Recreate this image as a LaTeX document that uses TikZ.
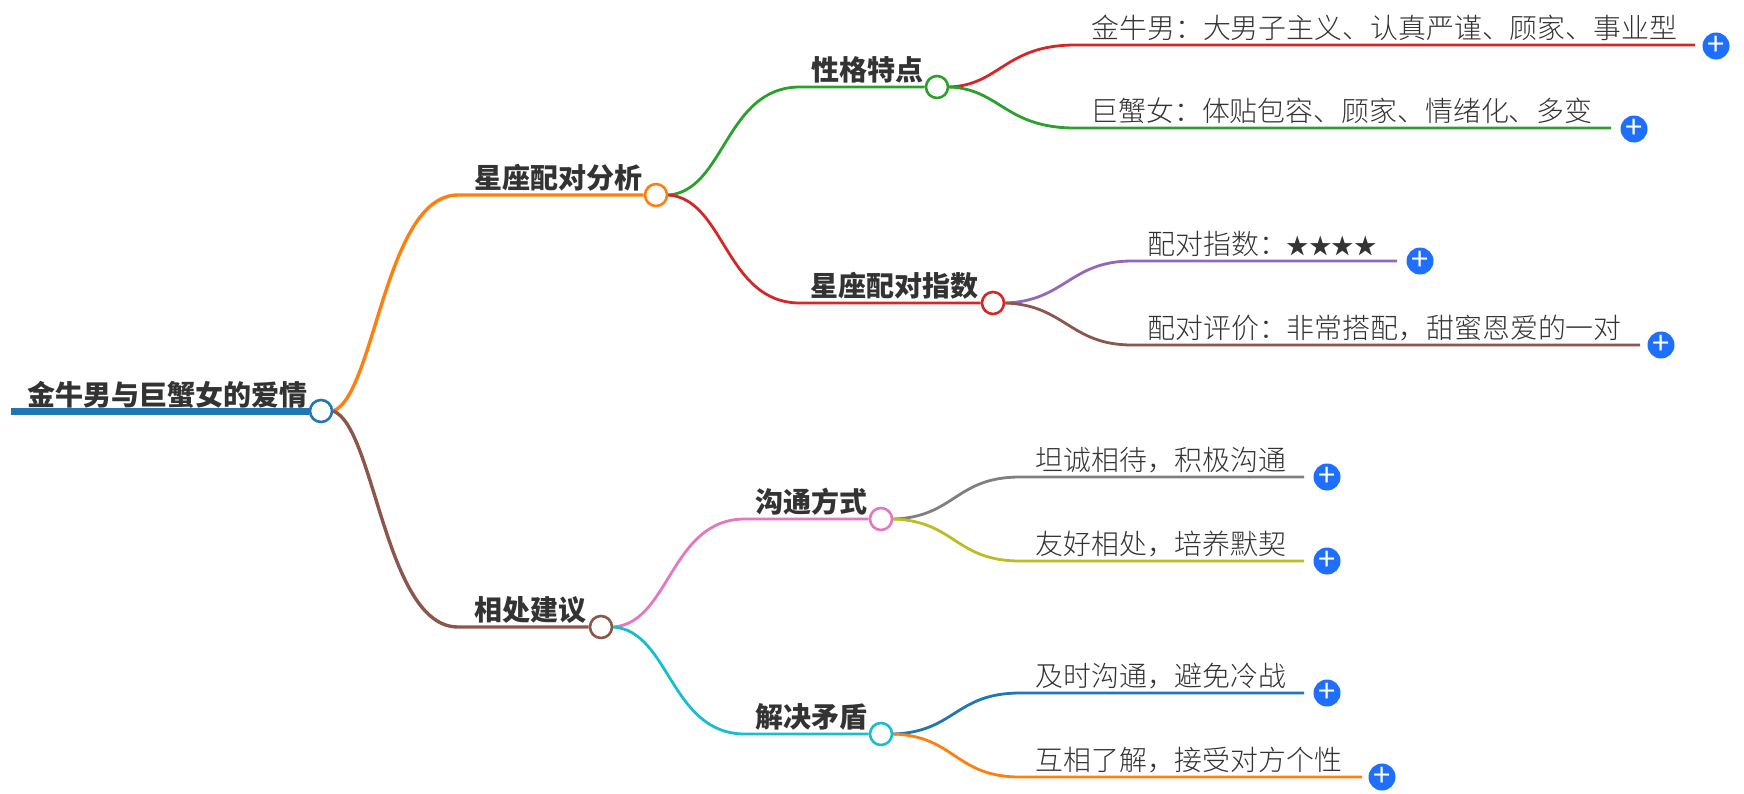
\documentclass[tikz,border=0pt]{standalone}
\usepackage{fontspec}
\setmainfont{Noto Sans CJK SC}
\newfontfamily\thinfont{Noto Sans CJK SC Light}
\usepackage{tikz}
\usetikzlibrary{positioning}

\definecolor{cBlue}{HTML}{1F77B4}
\definecolor{cOrange}{HTML}{FF7F0E}
\definecolor{cGreen}{HTML}{2CA02C}
\definecolor{cRed}{HTML}{D62728}
\definecolor{cPurple}{HTML}{9467BD}
\definecolor{cBrown}{HTML}{8C564B}
\definecolor{cPink}{HTML}{E377C2}
\definecolor{cGray}{HTML}{7F7F7F}
\definecolor{cOlive}{HTML}{BCBD22}
\definecolor{cCyan}{HTML}{17BECF}
\definecolor{cText}{HTML}{333333}
\definecolor{cExpand}{HTML}{1F6FFF}

\begin{document}
\begin{tikzpicture}[x=1pt, y=-1pt,
  dot/.style ={circle, draw, line width=2.6pt, fill=white, inner sep=0pt,
    minimum size=22pt},
  %
  branch/.style ={anchor=base west, inner sep=0pt, text=cText,
    font=\fontsize{28}{28}\selectfont\bfseries},
  %
  leaf/.style ={anchor=base west, inner sep=0pt, text=cText,
    font=\fontsize{27.9}{28}\selectfont\thinfont},
  %
  expand/.style ={circle, fill=cExpand, text=white, inner sep=0pt,
    minimum size=27pt, font=\fontsize{31}{31}\selectfont}
  ]

  \tikzset{every path/.style={line width=2.8pt}}
  \useasboundingbox (0,0) rectangle (1744,793);

  \begin{scope}
    %%%%%%%%%%%%%%%%%%%%%%%%%%%%%%%
    \coordinate (rootstart) at (11,411);
    \node [dot, draw=cBlue] (rootdot) at (321,411) {};
    \node [branch] (root) at (26,405) {金牛男与巨蟹女的爱情};
    %%%%%%%%%%%%%%%%%%%%%%%%%%%%%%%
    \node [dot, draw=cOrange] (matchdot) at (656,195) {};
    \node [branch] (match) at (473,188) {星座配对分析};
    \node [dot, draw=cBrown] (advicedot) at (601,627) {};
    \node [branch] (advice) at (473,620) {相处建议};
    %%%%%%%%%%%%%%%%%%%%%%%%%%%%%%%
    \node [dot, draw=cGreen] (traitdot) at (937,87) {};
    \node [branch] (trait) at (810,80) {性格特点};
    \node [dot, draw=cRed] (indexdot) at (993,303) {};
    \node [branch] (index) at (809,296) {星座配对指数};
    \node [dot, draw=cPink] (talkdot) at (881,519) {};
    \node [branch] (talk) at (754,512) {沟通方式};
    \node [dot, draw=cCyan] (solvedot) at (881,734) {};
    \node [branch] (solve) at (754,727) {解决矛盾};
    %%%%%%%%%%%%%%%%%%%%%%%%%%%%%%%
    \node [leaf] (taurus) at (1090,38) {金牛男：大男子主义、认真严谨、顾家、事业型};
    \node [leaf] (cancer) at (1089,121) {巨蟹女：体贴包容、顾家、情绪化、多变};
    \node [leaf] (score) at (1146,254) {配对指数：{\fontsize{22.5}{22.5}\selectfont ★★★★}};
    \node [leaf] (review) at (1146,338) {配对评价：非常搭配，甜蜜恩爱的一对};
    \node [leaf] (honest) at (1034,470) {坦诚相待，积极沟通};
    \node [leaf] (friend) at (1034,554) {友好相处，培养默契};
    \node [leaf] (timely) at (1034,686) {及时沟通，避免冷战};
    \node [leaf] (mutual) at (1034,770) {互相了解，接受对方个性};
    %%%%%%%%%%%%%%%%%%%%%%%%%%%%%%%
    \node [expand] (taurusplus) at (1716,46) {+};
    \node [expand] (cancerplus) at (1634,129) {+};
    \node [expand] (scoreplus) at (1420,261) {+};
    \node [expand] (reviewplus) at (1661,345) {+};
    \node [expand] (honestplus) at (1327,477) {+};
    \node [expand] (friendplus) at (1327,561) {+};
    \node [expand] (timelyplus) at (1327,693) {+};
    \node [expand] (mutualplus) at (1382,777) {+};
    %%%%%%%%%%%%%%%%%%%%%%%%%%%%%%%
    \coordinate (taurusend) at (1695,45);
    \coordinate (cancerend) at (1611,128);
    \coordinate (scoreend) at (1397,261);
    \coordinate (reviewend) at (1640,345);
    \coordinate (honestend) at (1304,477);
    \coordinate (friendend) at (1304,561);
    \coordinate (timelyend) at (1304,693);
    \coordinate (mutualend) at (1362,777);
  \end{scope}

  \begin{scope}
    \draw [cBlue, line width=7pt] (rootstart) -- (rootdot);
    \draw [cOrange, line width=3.4pt] (rootdot.east) .. controls (375,395) and (385,195) .. (458,195) -- (matchdot);
    \draw [cBrown, line width=3.4pt] (rootdot.east) .. controls (375,427) and (385,627) .. (458,627) -- (advicedot);
    \draw [cGreen] (matchdot.east) .. controls (725,191) and (725,87) .. (800,87) -- (traitdot);
    \draw [cRed] (matchdot.east) .. controls (725,199) and (725,303) .. (800,303) -- (indexdot);
    \draw [cPink] (advicedot.east) .. controls (670,623) and (670,519) .. (745,519) -- (talkdot);
    \draw [cCyan] (advicedot.east) .. controls (670,631) and (670,734) .. (745,734) -- (solvedot);
    \draw [cRed] (traitdot.east) .. controls (1000,85) and (1005,45) .. (1075,45) -- (taurusend);
    \draw [cGreen] (traitdot.east) .. controls (1000,89) and (1005,128) .. (1075,128) -- (cancerend);
    \draw [cPurple] (indexdot.east) .. controls (1065,301) and (1070,261) .. (1132,261) -- (scoreend);
    \draw [cBrown] (indexdot.east) .. controls (1065,305) and (1070,345) .. (1132,345) -- (reviewend);
    \draw [cGray] (talkdot.east) .. controls (955,517) and (955,477) .. (1020,477) -- (honestend);
    \draw [cOlive] (talkdot.east) .. controls (955,521) and (955,561) .. (1020,561) -- (friendend);
    \draw [cBlue] (solvedot.east) .. controls (955,732) and (955,693) .. (1020,693) -- (timelyend);
    \draw [cOrange] (solvedot.east) .. controls (955,736) and (955,777) .. (1020,777) -- (mutualend);
  \end{scope}

\end{tikzpicture}
\end{document}
